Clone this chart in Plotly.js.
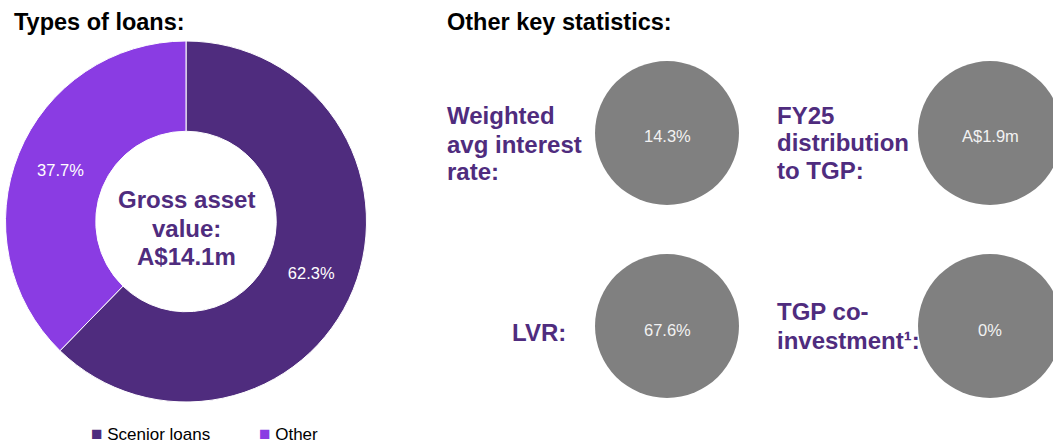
<!DOCTYPE html>
<html>
<head>
<meta charset="utf-8">
<script src="https://cdn.plot.ly/plotly-3.0.1.min.js"></script>
<style>html,body{margin:0;padding:0;background:#fff;}#chart{width:1053px;height:446px;}</style>
</head>
<body>
<div id="chart"></div>
<script>
// ---- data ----
const loanTypes = ["Scenior loans", "Other"];
const loanShares = [62.3, 37.7];
const centerLabel = ["Gross asset", "value:", "A$14.1m"];

const statLabels = [
  ["Weighted", "avg interest", "rate:"],
  ["FY25", "distribution", "to TGP:"],
  ["LVR:"],
  ["TGP co-", "investment\u00b9:"]
];
const statValues = ["14.3%", "A$1.9m", "67.6%", "0%"];
const statCol = [0, 1, 0, 1];
const statRow = [0, 0, 1, 1];

// ---- styles / layout ----
const DARK = "#4F2C7E";
const LIGHT = "#8A3CE3";
const GREY = "#808080";
const FONT = "Liberation Sans, Arial, sans-serif";

const W = 1053, H = 446;
const px = x => x / W;
const py = y => 1 - y / H;

const pie = {
  type: "pie",
  labels: loanTypes,
  values: loanShares,
  sort: false,
  direction: "clockwise",
  rotation: 0,
  hole: 0.5,
  domain: {x: [px(5), px(367)], y: [py(402), py(41)]},
  marker: {colors: [DARK, LIGHT], line: {color: "#ffffff", width: 1}},
  textposition: "inside",
  insidetextorientation: "horizontal",
  texttemplate: "%{percent:.1%}",
  textfont: {family: FONT, size: 16.5, color: "#ffffff"},
  hoverinfo: "label+percent",
  showlegend: false
};

const circles = {
  type: "scatter",
  mode: "markers",
  x: statCol,
  y: statRow,
  marker: {size: 144, color: GREY, line: {width: 0}},
  cliponaxis: false,
  showlegend: false,
  hoverinfo: "skip"
};

// axis mapping: col 0 -> 667px, col 1 -> 990px ; row 0 -> 133px, row 1 -> 326px
const xs = 323, x0 = 667;
const ys = 193, y0 = 133;

const labelPos = [
  {x: 445, ys: [116, 144, 171], xanchor: "left"},
  {x: 775, ys: [116, 143, 170], xanchor: "left"},
  {x: 568, ys: [332], xanchor: "right"},
  {x: 775, ys: [311.5, 340], xanchor: "left"}
];

const annotations = [
  {text: "<b>Types of loans:</b>", x: px(12), y: py(22.5), xanchor: "left", yanchor: "middle",
   font: {family: FONT, size: 23.5, color: "#000000"}},
  {text: "<b>Other key statistics:</b>", x: px(445), y: py(22.5), xanchor: "left", yanchor: "middle",
   font: {family: FONT, size: 23.5, color: "#000000"}}
];
const centerYs = [200, 228.5, 256];
centerLabel.forEach((t, i) => {
  annotations.push({text: "<b>" + t + "</b>", x: px(186), y: py(centerYs[i]),
    xanchor: "center", yanchor: "middle", font: {family: FONT, size: 24, color: DARK}});
});
statLabels.forEach((lines, i) => {
  lines.forEach((t, j) => {
    annotations.push({
      text: "<b>" + t + "</b>", x: px(labelPos[i].x), y: py(labelPos[i].ys[j]),
      xanchor: labelPos[i].xanchor, yanchor: "middle",
      font: {family: FONT, size: 24, color: DARK}
    });
  });
});
annotations.forEach(a => { a.xref = "paper"; a.yref = "paper"; });
statValues.forEach((v, i) => {
  annotations.push({text: v, xref: "x", yref: "y", x: statCol[i], y: statRow[i],
    xanchor: "center", yanchor: "middle", yshift: statRow[i] === 0 ? -2.5 : -3.5,
    font: {family: FONT, size: 16.5, color: "#f2f2f2"}});
});
// legend (as text with coloured swatches)
const legendX = [89, 257];
loanTypes.forEach((t, i) => {
  annotations.push({text: '<span style="color:' + [DARK, LIGHT][i] + ';font-size:19px">\u25A0</span> ' + t,
    xref: "paper", yref: "paper", x: px(legendX[i]), y: 0,
    xanchor: "left", yanchor: "bottom", font: {family: FONT, size: 17, color: "#000000"}});
});
annotations.forEach(a => { a.showarrow = false; });

const layout = {
  width: W, height: H,
  margin: {l: 0, r: 0, t: 0, b: 0},
  paper_bgcolor: "#ffffff",
  plot_bgcolor: "rgba(0,0,0,0)",
  font: {family: FONT},
  xaxis: {domain: [0, 1], range: [-x0 / xs, (W - x0) / xs], visible: false, fixedrange: true},
  yaxis: {domain: [0, 1], range: [(H - y0) / ys, -y0 / ys], visible: false, fixedrange: true},
  showlegend: false,
  annotations: annotations
};

Plotly.newPlot("chart", [circles, pie], layout, {displayModeBar: false, staticPlot: true});
</script>
</body>
</html>
